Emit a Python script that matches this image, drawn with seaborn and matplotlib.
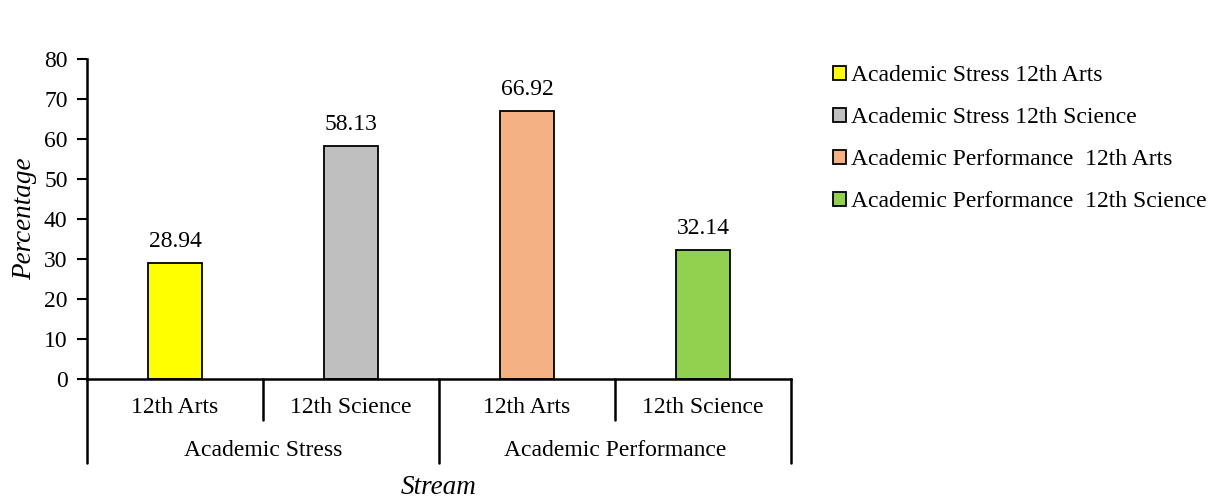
import matplotlib
matplotlib.use("Agg")
import matplotlib.pyplot as plt
import seaborn as sns
import pandas as pd
from matplotlib.patches import Patch

# data
groups = ["Academic Stress", "Academic Stress", "Academic Performance", "Academic Performance"]
streams = ["12th Arts", "12th Science", "12th Arts", "12th Science"]
series = ["Academic Stress 12th Arts", "Academic Stress 12th Science",
          "Academic Performance  12th Arts", "Academic Performance  12th Science"]
values = [28.94, 58.13, 66.92, 32.14]
colors = ["#FFFF00", "#BFBFBF", "#F4B183", "#92D050"]

df = pd.DataFrame({"series": series, "value": values, "group": groups, "stream": streams})

sns.set_theme(style="white")
plt.rcParams['font.family'] = ['Liberation Serif', 'DejaVu Serif']
plt.rcParams['text.color'] = 'black'
plt.rcParams['axes.labelcolor'] = 'black'
plt.rcParams['ytick.color'] = 'black'
fs = 17

fig = plt.figure(figsize=(12.17, 4.98), dpi=100)
ax = fig.add_axes([0.0715, 0.239, 0.5785, 0.6425])

sns.barplot(data=df, x="series", y="value", hue="series", palette=colors,
            saturation=1, width=0.31, edgecolor="black", linewidth=1.3,
            dodge=False, legend=False, ax=ax)

for c in ax.containers:
    ax.bar_label(c, fmt="%.2f", padding=8, fontsize=fs, color="black")

ax.set_ylim(0, 80)
ax.set_yticks(range(0, 81, 10))
ax.set_xlim(-0.5, 3.5)
ax.set_xticks([])
ax.set_xlabel("")
ax.set_ylabel("Percentage", style="italic", fontsize=19.5)
ax.yaxis.set_label_coords(-0.071, 0.5)
ax.tick_params(axis="y", which="major", left=True, length=7, width=1.5,
               color="black", labelsize=fs, pad=7)
for s in ["top", "right"]:
    ax.spines[s].set_visible(False)
for s in ["left", "bottom"]:
    ax.spines[s].set_color("black")
    ax.spines[s].set_linewidth(1.8)

# two-level category axis
tr = ax.get_xaxis_transform()
n = len(streams)
for i in range(n + 1):
    x = i - 0.5
    depth = -0.2625 if i in (0, 2, n) else -0.128
    ax.plot([x, x], [0, depth], transform=tr, color="black", lw=1.8, clip_on=False)
for i, s in enumerate(streams):
    ax.text(i, -0.09, s, transform=tr, ha="center", va="center", fontsize=fs)
ax.text(0.5, -0.225, groups[0], transform=tr, ha="center", va="center", fontsize=fs)
ax.text(2.5, -0.225, groups[2], transform=tr, ha="center", va="center", fontsize=fs)
ax.text(1.5, -0.34, "Stream", transform=tr, ha="center", va="center",
        fontsize=19.5, style="italic")

handles = [Patch(facecolor=c, edgecolor="black", linewidth=1.3, label=l)
           for c, l in zip(colors, series)]
fig.legend(handles=handles, loc="upper left", bbox_to_anchor=(0.677, 0.888),
           frameon=False, fontsize=fs, handlelength=0.55, handleheight=0.55,
           handletextpad=0.2, labelspacing=0.89, borderaxespad=0)

fig.savefig("out.png", dpi=100)
